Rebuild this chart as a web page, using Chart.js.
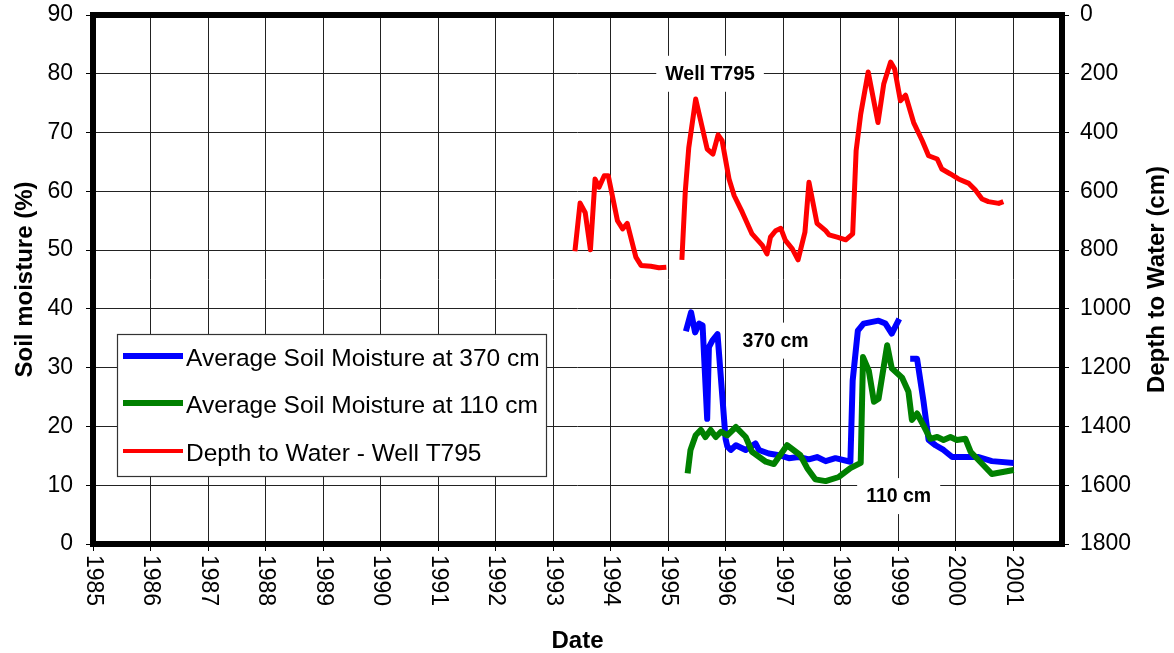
<!DOCTYPE html>
<html><head><meta charset="utf-8">
<script src="https://cdn.jsdelivr.net/npm/chart.js@4.4.0/dist/chart.umd.min.js"></script>
<style>html,body{margin:0;padding:0;background:#fff;} #wrap{width:1174px;height:653px;}</style>
</head><body><div id="wrap"><canvas id="c" width="1174" height="653"></canvas></div>
<script>
// ---- data ----
const xTickLabels = ['1985','1986','1987','1988','1989','1990','1991','1992','1993','1994','1995','1996','1997','1998','1999','2000','2001'];

const depthDates = [1993.38,1993.47,1993.56,1993.65,1993.73,1993.80,1993.89,1993.96,1994.12,1994.21,1994.29,1994.44,1994.53,1994.70,1994.84,1994.97,1995.10,
  1995.24,1995.30,1995.36,1995.48,1995.68,1995.78,1995.87,1995.94,1996.06,1996.15,1996.29,1996.46,1996.64,1996.72,1996.78,1996.87,1996.96,
  1997.04,1997.16,1997.26,1997.38,1997.45,1997.59,1997.74,1997.80,1997.94,1998.09,1998.21,1998.27,1998.35,1998.48,1998.65,1998.75,1998.87,
  1998.94,1999.04,1999.13,1999.27,1999.42,1999.53,1999.68,1999.76,1999.91,2000.05,2000.23,2000.34,2000.46,2000.57,2000.75,2000.83];
const depthValues = [804,640,673,799,558,586,547,547,700,728,709,824,852,855,860,858,null,
  833,598,451,286,456,473,408,428,558,615,671,745,784,813,756,734,726,
  767,796,833,739,569,709,734,748,756,765,745,462,337,194,366,235,160,
  184,292,273,366,428,479,490,524,541,558,573,595,626,635,641,635];

const sm370Dates = [1995.31,1995.40,1995.47,1995.54,1995.60,1995.68,1995.71,1995.77,1995.86,1996.00,1996.03,1996.09,1996.18,1996.35,1996.52,1996.58,
  1996.75,1996.93,1997.10,1997.27,1997.45,1997.59,1997.74,1997.91,1998.17,1998.21,1998.30,1998.40,1998.66,1998.78,1998.89,1999.02,1999.12,
  1999.21,1999.33,1999.44,1999.53,1999.65,1999.79,1999.94,2000.17,2000.40,2000.63,2001.01];
const sm370Values = [36.2,39.4,36.0,37.5,37.2,21.3,33.5,34.6,35.7,17.9,16.6,16.0,16.8,16.0,17.1,16.0,
  15.4,15.1,14.6,14.8,14.4,14.8,14.1,14.6,14.0,27.8,36.3,37.5,38.0,37.5,35.8,38.3,null,
  31.5,31.5,24.4,17.7,16.8,16.0,14.8,14.8,14.8,14.1,13.8];

const sm110Dates = [1995.34,1995.39,1995.48,1995.57,1995.65,1995.74,1995.83,1995.92,1996.03,1996.18,1996.35,1996.46,1996.70,1996.84,
  1997.07,1997.30,1997.42,1997.56,1997.74,1997.97,1998.17,1998.35,1998.39,1998.49,1998.58,1998.66,1998.81,1998.89,1999.07,1999.18,
  1999.24,1999.33,1999.44,1999.56,1999.68,1999.79,1999.91,2000.02,2000.17,2000.26,2000.63,2001.01];
const sm110Values = [12.0,16.0,18.5,19.4,18.2,19.4,18.2,19.1,18.5,19.9,18.2,15.7,14.0,13.6,
  16.8,15.1,12.9,11.0,10.7,11.4,12.9,13.8,31.8,29.5,24.2,24.7,33.8,29.9,28.3,25.9,
  21.1,22.2,20.2,17.9,18.2,17.7,18.2,17.7,17.9,15.7,11.9,12.6];

const seriesNames = ['Average Soil Moisture at 370 cm','Average Soil Moisture at 110 cm','Depth to Water - Well T795'];
const seriesColors = ['#0000FF','#008000','#FF0000'];

// text annotations (anchored in data coordinates: year, soil moisture %)
const annotationTexts = ['Well T795','370 cm','110 cm'];
const annotationX = [1995.73, 1996.87, 1999.01];
const annotationY = [80.0, 34.6, 8.15];

const axisTitles = {x:'Date', yLeft:'Soil moisture (%)', yRight:'Depth to Water (cm)'};

// ---- helpers ----
const pts = (xs, ys) => xs.map((x,i) => ({x:x, y:ys[i]}));
const FONT = '"Liberation Sans", Arial, Helvetica, sans-serif';

const decor = {
  id:'decor',
  beforeDatasetsDraw(chart){
    const ctx = chart.ctx, xs = chart.scales.x, yl = chart.scales.y;
    ctx.save();
    ctx.font = 'bold 19.5px ' + FONT;
    ctx.textAlign = 'center'; ctx.textBaseline = 'middle';
    annotationTexts.forEach((t,i)=>{
      const cx = xs.getPixelForValue(annotationX[i]);
      const cy = yl.getPixelForValue(annotationY[i]);
      const w = ctx.measureText(t).width + 18, h = 36;
      ctx.fillStyle = '#fff';
      ctx.fillRect(cx - w/2, cy - h/2, w, h);
      ctx.fillStyle = '#000';
      ctx.fillText(t, cx, cy + 1);
    });
    ctx.restore();
  },
  afterDraw(chart){
    const ctx = chart.ctx, a = chart.chartArea, xs = chart.scales.x;
    ctx.save();
    // plot border
    ctx.strokeStyle = '#000'; ctx.lineWidth = 6;
    ctx.strokeRect(a.left, a.top, a.right - a.left, a.bottom - a.top);
    // x tick labels rotated clockwise
    ctx.fillStyle = '#000';
    ctx.font = '23px ' + FONT;
    ctx.textAlign = 'left'; ctx.textBaseline = 'middle';
    xTickLabels.forEach(l=>{
      const x = xs.getPixelForValue(+l);
      ctx.save(); ctx.translate(x, a.bottom + 11); ctx.rotate(Math.PI/2);
      ctx.fillText(l, 0, 0); ctx.restore();
    });
    // axis titles
    ctx.font = 'bold 24px ' + FONT;
    ctx.textAlign = 'center'; ctx.textBaseline = 'middle';
    ctx.fillText(axisTitles.x, (a.left + a.right)/2, 641);
    const cy = (a.top + a.bottom)/2;
    ctx.save(); ctx.translate(25, cy); ctx.rotate(-Math.PI/2); ctx.fillText(axisTitles.yLeft, 0, 0); ctx.restore();
    ctx.save(); ctx.translate(1157, cy); ctx.rotate(-Math.PI/2); ctx.fillText(axisTitles.yRight, 0, 0); ctx.restore();
    // legend
    const lx = 117, ly = 334, lw = 429, lh = 142;
    ctx.fillStyle = '#fff'; ctx.fillRect(lx, ly, lw, lh);
    ctx.strokeStyle = '#333'; ctx.lineWidth = 1.2; ctx.strokeRect(lx + 0.5, ly + 0.5, lw, lh);
    const rows = [356, 403, 451];
    const widths = [6, 6, 4];
    ctx.font = '24.5px ' + FONT; ctx.textAlign = 'left'; ctx.textBaseline = 'middle';
    seriesNames.forEach((n,i)=>{
      ctx.strokeStyle = seriesColors[i]; ctx.lineWidth = widths[i];
      ctx.beginPath(); ctx.moveTo(123, rows[i]); ctx.lineTo(183, rows[i]); ctx.stroke();
      ctx.fillStyle = '#000';
      ctx.fillText(n, 186, rows[i] + 3);
    });
    ctx.restore();
  }
};

new Chart(document.getElementById('c'), {
  type:'line',
  data:{ datasets:[
    {label:seriesNames[0], data:pts(sm370Dates, sm370Values), borderColor:seriesColors[0], borderWidth:6, yAxisID:'y', order:2},
    {label:seriesNames[1], data:pts(sm110Dates, sm110Values), borderColor:seriesColors[1], borderWidth:6, yAxisID:'y', order:1},
    {label:seriesNames[2], data:pts(depthDates, depthValues), borderColor:seriesColors[2], borderWidth:5, yAxisID:'y2', order:3}
  ]},
  options:{
    responsive:false, animation:false, devicePixelRatio:1,
    parsing:true, spanGaps:false,
    elements:{ point:{radius:0, hoverRadius:0}, line:{tension:0, borderJoinStyle:'round', borderCapStyle:'butt', fill:false} },
    layout:{ padding:{top:15, left:0, right:0, bottom:0} },
    plugins:{ legend:{display:false}, tooltip:{enabled:false} },
    scales:{
      x:{ type:'linear', position:'bottom', min:1985, max:2001.85,
        afterBuildTicks:(s)=>{ s.ticks = xTickLabels.map(v=>({value:+v})); },
        afterFit:(s)=>{ s.height = 109; s.paddingLeft = 0; s.paddingRight = 0; },
        ticks:{ display:false },
        grid:{ color:'#222', lineWidth:1, drawTicks:true, tickLength:7, tickColor:'#000' },
        border:{ display:false } },
      y:{ type:'linear', position:'left', min:0, max:90,
        afterFit:(s)=>{ s.width = 93; s.paddingTop = 0; s.paddingBottom = 0; },
        ticks:{ stepSize:10, color:'#000', font:{family:FONT, size:23}, padding:13, callback:(v)=>String(v) },
        grid:{ color:'#222', lineWidth:1, drawTicks:true, tickLength:7, tickColor:'#000' },
        border:{ display:false } },
      y2:{ type:'linear', position:'right', min:0, max:1800, reverse:true,
        afterFit:(s)=>{ s.width = 112; s.paddingTop = 0; s.paddingBottom = 0; },
        ticks:{ stepSize:200, color:'#000', font:{family:FONT, size:23}, padding:11, callback:(v)=>String(v) },
        grid:{ drawOnChartArea:false, drawTicks:true, tickLength:7, tickColor:'#000' },
        border:{ display:false } }
    }
  },
  plugins:[decor]
});
</script></body></html>
